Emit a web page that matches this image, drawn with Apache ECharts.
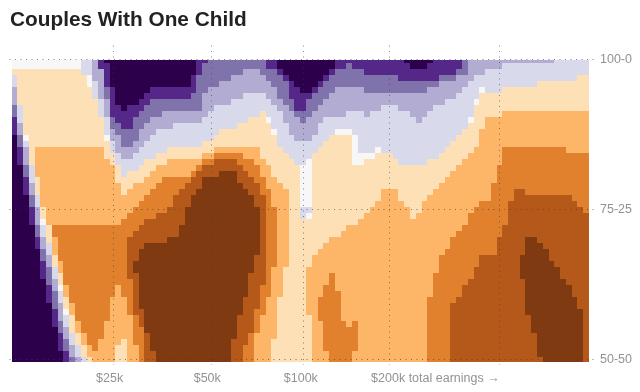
<!DOCTYPE html>
<html><head><meta charset="utf-8">
<style>html,body{margin:0;padding:0;background:#fff}#c{width:640px;height:392px}#c canvas{filter:blur(.35px)}</style>
<script src="https://cdn.jsdelivr.net/npm/echarts@6/dist/echarts.min.js"></script>
</head><body><div id="c"></div>
<script>
const titleText = "Couples With One Child";
const bandColors = ["#2d004b","#542788","#8073ac","#b2abd2","#d8daeb","#f7f7f7","#fee0b6","#fdb668","#e2812d","#b5591b","#803a11"];
const shareTicks = [100, 75, 50];
const shareLabels = ["100-0", "75-25", "50-50"];
const earningsLines = [17.5, 34.5, 50.5, 65.4, 84.4];
const earningsLabelAt = [17, 33.9, 50.1, 73.4];
const earningsLabels = ["$25k", "$50k", "$100k", "$200k total earnings \u2192"];
// One list per income column, read top to bottom: band, last row of that band, band, last row ...
const columnBands = [
[5,1,6,2,4,4,3,7,2,9,1,12,0,50],
[5,1,6,7,4,10,3,12,2,14,1,17,0,50],
[5,1,6,12,5,13,4,14,3,17,2,19,1,22,0,50],
[5,1,6,17,4,20,3,22,2,24,1,27,0,50],
[5,1,6,14,7,19,6,22,4,24,3,27,2,29,1,31,0,50],
[5,1,6,14,7,24,6,26,5,27,4,29,3,31,2,33,1,36,0,50],
[5,1,6,14,7,27,6,30,4,32,3,34,2,37,1,40,0,50],
[5,1,6,14,7,27,8,29,7,32,6,34,4,36,3,38,2,41,1,44,0,50],
[5,1,6,14,7,27,8,33,7,35,6,37,5,38,4,40,3,43,2,45,1,48,0,50],
[5,1,6,14,7,27,8,37,7,39,6,41,5,42,4,44,3,46,2,48,1,50],
[5,1,6,14,7,27,8,40,7,42,6,45,4,47,3,49,2,50],
[5,1,6,14,7,27,8,43,7,45,6,47,4,49,3,50],
[4,2,6,14,7,27,8,45,7,47,6,49,4,50],
[4,2,5,4,6,14,7,27,8,47,7,49,6,50],
[3,3,4,6,6,14,7,27,8,48,7,50],
[1,1,3,6,4,9,6,14,7,27,8,46,7,50],
[0,0,1,4,2,6,3,9,4,12,5,13,6,16,7,27,8,43,7,50],
[0,4,1,9,2,11,3,13,4,15,6,17,7,27,8,39,7,50],
[0,7,1,10,2,12,3,15,4,17,6,20,7,27,8,37,7,47,6,50],
[0,8,1,11,2,14,3,16,4,19,6,22,7,26,8,39,7,46,6,50],
[0,7,1,11,2,14,3,16,4,18,6,21,7,25,8,29,9,36,8,42,7,50],
[0,7,1,9,2,13,3,15,4,18,6,20,7,24,8,28,9,33,10,35,9,42,8,47,7,50],
[0,6,1,8,2,11,3,14,4,17,6,20,7,23,8,27,9,31,10,41,9,44,8,50],
[0,5,1,7,2,10,3,13,4,16,6,19,7,22,8,26,9,30,10,45,9,50],
[0,4,1,6,2,9,3,12,4,16,6,18,7,21,8,26,9,30,10,48,9,50],
[0,4,1,6,2,9,3,11,4,15,6,17,7,20,8,25,9,30,10,50],
[0,4,1,6,2,8,3,11,4,15,6,17,7,19,8,25,9,30,10,50],
[0,4,1,6,2,8,3,11,4,14,6,16,7,19,8,24,9,29,10,50],
[0,4,1,6,2,8,3,10,4,14,6,16,7,19,8,22,9,29,10,50],
[0,4,1,6,2,8,3,10,4,14,6,16,7,19,8,21,9,27,10,50],
[0,4,1,6,2,8,3,10,4,14,6,16,7,19,8,20,9,24,10,50],
[0,2,1,5,2,8,3,10,4,14,6,16,7,18,8,19,9,22,10,50],
[1,2,2,8,3,10,4,14,6,16,7,17,8,18,9,21,10,50],
[1,0,2,5,3,9,4,13,6,15,7,16,8,17,9,19,10,50],
[2,4,3,8,4,13,6,15,7,16,8,17,9,19,10,50],
[2,4,3,7,4,12,6,14,7,15,8,16,9,19,10,50],
[2,3,3,7,4,11,6,14,7,15,8,16,9,18,10,50],
[2,3,3,7,4,11,6,14,7,15,8,16,9,18,10,50],
[2,2,3,6,4,11,6,14,7,15,8,16,9,18,10,46,9,50],
[2,2,3,6,4,10,6,14,7,15,8,17,9,20,10,42,9,50],
[2,1,3,5,4,10,6,14,7,16,8,18,9,21,10,39,9,47,8,50],
[2,1,3,5,4,9,6,14,7,16,8,19,9,22,10,35,9,45,8,50],
[2,1,3,5,4,9,6,14,7,17,8,20,9,24,10,32,9,41,8,45,7,50],
[2,2,3,5,4,8,6,16,7,19,8,22,9,37,8,42,7,50],
[1,1,2,3,3,6,4,9,5,10,6,17,7,21,8,39,7,50],
[1,1,2,4,3,7,4,11,5,12,6,19,7,24,8,34,7,46,6,50],
[0,1,1,2,2,6,3,8,4,14,6,20,7,39,6,50],
[0,2,1,3,2,7,3,10,4,15,6,21,7,34,6,50],
[0,3,1,6,2,8,3,12,4,16,6,50],
[0,4,1,8,2,9,3,13,4,17,6,50],
[0,5,1,8,2,10,3,13,4,17,5,24,4,26,6,50],
[0,5,1,6,2,9,3,13,4,16,5,24,4,25,5,26,6,34,7,42,6,50],
[0,4,1,5,2,8,3,12,4,15,6,32,7,50],
[0,3,1,4,2,7,3,10,4,14,6,31,7,39,8,43,7,50],
[0,2,1,3,2,6,3,9,4,13,6,30,7,37,8,48,7,50],
[0,1,1,2,2,5,3,9,4,12,6,29,7,35,8,50],
[1,1,2,4,3,9,4,11,5,12,6,29,7,38,8,50],
[1,1,2,4,3,9,4,11,5,12,6,28,7,43,8,50],
[1,0,2,4,3,8,4,11,5,12,6,27,7,44,8,50],
[1,1,2,4,3,8,4,12,5,17,6,27,7,43,8,48,7,50],
[1,1,2,4,3,8,4,15,5,17,6,26,7,50],
[1,2,2,5,3,9,4,15,5,16,6,25,7,50],
[1,2,2,5,3,8,4,15,5,16,6,24,7,50],
[1,2,2,5,3,8,4,14,5,15,6,23,7,50],
[1,2,2,5,3,7,4,15,6,21,7,50],
[1,2,2,5,3,7,4,15,6,21,7,50],
[1,2,2,5,3,7,4,16,6,21,7,50],
[1,3,2,5,3,8,4,17,6,23,7,50],
[0,0,1,3,2,5,3,8,4,17,6,24,7,50],
[0,1,1,3,2,5,3,9,4,17,6,26,7,50],
[0,1,1,3,2,5,3,10,4,17,6,25,7,50],
[0,1,1,3,2,5,3,9,4,17,6,23,7,50],
[0,0,1,3,2,4,3,8,4,16,6,22,7,39,8,50],
[1,3,2,4,3,7,4,16,6,21,7,35,8,50],
[1,2,2,3,3,7,4,15,6,20,7,32,8,50],
[1,2,2,3,3,6,4,14,6,19,7,31,8,50],
[1,2,2,3,3,6,4,13,6,18,7,29,8,40,9,50],
[1,1,2,2,3,5,4,12,6,17,7,28,8,39,9,50],
[2,2,3,4,4,11,6,16,7,27,8,37,9,50],
[3,3,4,9,5,10,6,15,7,25,8,36,9,50],
[3,2,4,6,5,7,6,14,7,24,8,34,9,50],
[3,2,4,4,5,5,6,11,7,23,8,32,9,50],
[3,1,4,5,6,9,7,23,8,32,9,50],
[3,1,4,5,6,9,7,20,8,32,9,50],
[3,1,4,5,6,9,7,17,8,29,9,50],
[3,0,4,4,6,8,7,14,8,27,9,50],
[3,0,4,4,6,8,7,14,8,23,9,50],
[3,0,4,4,6,8,7,14,8,21,9,50],
[3,0,4,4,6,8,7,14,8,21,9,32,10,36,9,50],
[3,0,4,4,6,8,7,14,8,22,9,29,10,42,9,50],
[3,0,4,4,6,8,7,14,8,22,9,29,10,45,9,50],
[3,0,4,3,6,8,7,14,8,22,9,30,10,49,9,50],
[3,0,4,3,6,8,7,14,8,22,9,31,10,50],
[3,0,4,3,6,8,7,14,8,22,9,33,10,50],
[4,3,6,8,7,14,8,22,9,34,10,50],
[4,3,6,8,7,14,8,22,9,36,10,50],
[4,3,6,8,7,15,8,22,9,37,10,50],
[4,3,6,8,7,15,8,23,9,39,10,50],
[4,2,6,8,7,15,8,24,9,41,10,50],
[4,2,6,8,7,15,8,25,9,50]
];

const cells = [];
columnBands.forEach((runs, col) => {
  let row = 0;
  for (let i = 0; i < runs.length; i += 2) {
    for (; row <= runs[i + 1]; row++) cells.push([col, 100 - row, runs[i]]);
  }
});

const chart = echarts.init(document.getElementById("c"), null, {renderer: "canvas"});
const GRAY = "#929292";
chart.setOption({
  animation: false,
  backgroundColor: "#fff",
  title: {text: titleText, left: 10, top: 10, padding: 0, textStyle: {fontFamily: "Liberation Sans", fontWeight: "bold", fontSize: 20.8, color: "#222"}},
  grid: {left: 11.5, right: 51, top: 59.5, bottom: 32, containLabel: false},
  xAxis: {
    type: "value", min: 0, max: 100,
    axisLine: {show: false}, axisTick: {show: false}, splitLine: {show: false},
    axisLabel: {
      customValues: earningsLabelAt, margin: 12, color: GRAY, fontSize: 12.5, fontFamily: "Liberation Sans",
      hideOverlap: false, showMinLabel: true, showMaxLabel: true,
      formatter: v => earningsLabels[earningsLabelAt.indexOf(v)] || ""
    }
  },
  yAxis: {
    type: "value", min: 50, max: 100, position: "right",
    axisLine: {show: false}, axisTick: {show: false}, splitLine: {show: false},
    axisLabel: {
      customValues: shareTicks, margin: 11, color: GRAY, fontSize: 12.5, fontFamily: "Liberation Sans",
      formatter: v => shareLabels[shareTicks.indexOf(v)] || ""
    }
  },
  series: [
    {
      type: "custom", coordinateSystem: "cartesian2d", clip: false, silent: true,
      encode: {x: 0, y: 1}, data: cells,
      renderItem(params, api) {
        const col = api.value(0), share = api.value(1);
        const x0 = Math.round(api.coord([col, share])[0]);
        const x1 = Math.round(api.coord([col + 1, share])[0]);
        const sys = params.coordSys;
        const top = Math.max(api.coord([col, share + 0.5])[1], sys.y);
        const bot = Math.min(api.coord([col, share - 0.5])[1], sys.y + sys.height + 2);
        const y0 = Math.round(top), y1 = Math.round(bot);
        return {type: "rect", shape: {x: x0, y: y0, width: x1 - x0, height: y1 - y0},
                style: {fill: bandColors[api.value(2)]}};
      }
    },
    {
      type: "custom", coordinateSystem: "cartesian2d", clip: false, silent: true, z: 5,
      encode: {x: 0}, data: earningsLines.map(v => [v]),
      renderItem(params, api) {
        const x = Math.round(api.coord([api.value(0), 100])[0]) + 0.5;
        const sys = params.coordSys;
        return {type: "line", shape: {x1: x, y1: sys.y - 14, x2: x, y2: sys.y + sys.height + 5},
                style: {stroke: "rgba(60,60,60,0.6)", lineWidth: 1, lineDash: [1, 4.5]}};
      }
    },
    {
      type: "custom", coordinateSystem: "cartesian2d", clip: false, silent: true, z: 5,
      encode: {y: 0}, data: shareTicks.map(v => [v]),
      renderItem(params, api) {
        const y = Math.round(api.coord([0, api.value(0)])[1]) - 0.5;
        const sys = params.coordSys;
        return {type: "line", shape: {x1: sys.x - 2, y1: y, x2: sys.x + sys.width + 8, y2: y},
                style: {stroke: "rgba(60,60,60,0.65)", lineWidth: 1, lineDash: [1, 4.5]}};
      }
    }
  ]
});
</script></body></html>
